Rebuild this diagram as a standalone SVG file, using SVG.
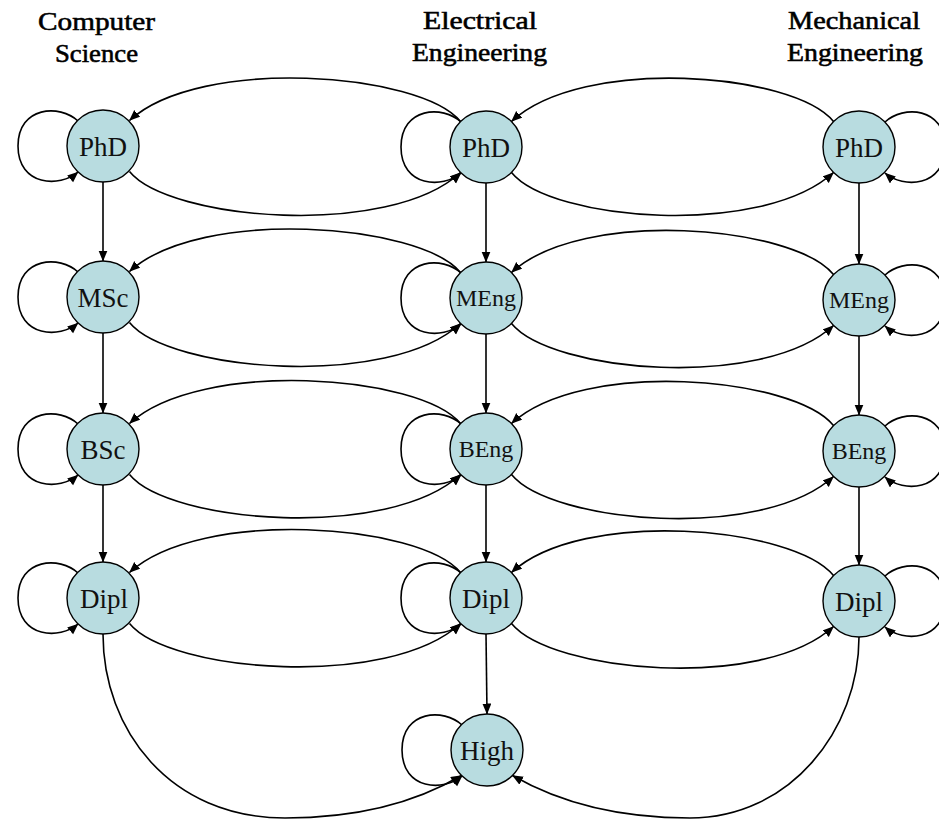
<svg xmlns="http://www.w3.org/2000/svg" width="939" height="819" viewBox="0 0 939 819">
  <style>
    .node circle { fill: #b8dce0; stroke: #000; stroke-width: 1.4; }
    .node text { font-family: "Liberation Serif", "DejaVu Serif", serif; font-size: 27px; fill: #111; text-anchor: middle; }
    .node text.sm { font-size: 24px; }
    .head { font-family: "Liberation Serif", "DejaVu Serif", serif; font-size: 25px; fill: #000; stroke: #000; stroke-width: 0.55; text-anchor: middle; }
    .edges path { fill: none; stroke: #000; stroke-width: 1.6; marker-end: url(#arrow); }
  </style>
  <defs>
    <marker id="arrow" markerUnits="userSpaceOnUse" markerWidth="12" markerHeight="10" refX="10.5" refY="4.5" orient="auto">
      <path d="M0,0 L11,4.5 L0,9 z" fill="#000"/>
    </marker>
  </defs>
  <rect width="939" height="819" fill="#fff"/>

  <!-- column headings -->
  <g id="headings">
    <text class="head" x="96.5" y="30" textLength="117" lengthAdjust="spacingAndGlyphs">Computer</text>
    <text class="head" x="96.5" y="62" textLength="83" lengthAdjust="spacingAndGlyphs">Science</text>
    <text class="head" x="480" y="29" textLength="114" lengthAdjust="spacingAndGlyphs">Electrical</text>
    <text class="head" x="479.5" y="61" textLength="135" lengthAdjust="spacingAndGlyphs">Engineering</text>
    <text class="head" x="854" y="29" textLength="132" lengthAdjust="spacingAndGlyphs">Mechanical</text>
    <text class="head" x="855" y="61" textLength="136" lengthAdjust="spacingAndGlyphs">Engineering</text>
  </g>

  <g class="edges" id="edges">
    <!-- self loops, left and middle columns (loop on the left side) -->
    <path d="M78,121 C60,104 18,106 18,146 C18,186 60,188 78,172"/>
    <path d="M78,272 C60,255 18,257 18,297 C18,337 60,339 78,323"/>
    <path d="M78,424 C60,407 18,409 18,449 C18,489 60,491 78,475"/>
    <path d="M78,573 C60,556 18,558 18,598 C18,638 60,640 78,624"/>
    <path d="M461,122 C443,105 401,107 401,147 C401,187 443,189 461,173"/>
    <path d="M461,273 C443,256 401,258 401,298 C401,338 443,340 461,324"/>
    <path d="M461,424 C443,407 401,409 401,449 C401,489 443,491 461,475"/>
    <path d="M461,573 C443,556 401,558 401,598 C401,638 443,640 461,624"/>
    <path d="M462,725 C444,708 402,710 402,750 C402,790 444,792 462,776"/>
    <!-- self loops, right column (loop on the right side) -->
    <path d="M885,122 C903,105 945,107 945,147 C945,187 903,189 885,173"/>
    <path d="M885,275 C903,258 945,260 945,300 C945,340 903,342 885,326"/>
    <path d="M885,426 C903,409 945,411 945,451 C945,491 903,493 885,477"/>
    <path d="M885,576 C903,559 945,561 945,601 C945,641 903,643 885,627"/>

    <!-- vertical steps down each column -->
    <path d="M103,182 L103,261"/>
    <path d="M103,333 L103,413"/>
    <path d="M103,485 L103,562"/>
    <path d="M486,183 L486,262"/>
    <path d="M486,334 L486,413"/>
    <path d="M486,485 L486,562"/>
    <path d="M486,634 L487,714"/>
    <path d="M859,183 L859,264"/>
    <path d="M859,336 L859,415"/>
    <path d="M859,487 L859,565"/>

    <!-- Electrical -> Computer Science (upper arcs) -->
    <path d="M460.5,121.5 C420.5,72.5 200.5,55.5 129.5,120.5"/>
    <path d="M460.5,272.5 C420.5,223.5 200.5,206.5 129.5,271.5"/>
    <path d="M460.5,423.5 C420.5,374.5 200.5,358.5 129.5,423.5"/>
    <path d="M460.5,572.5 C420.5,523.5 200.5,507.5 129.5,572.5"/>
    <!-- Computer Science -> Electrical (lower arcs) -->
    <path d="M129.5,171.5 C169.5,220.5 389.5,238.5 460.5,172.5"/>
    <path d="M129.5,322.5 C169.5,371.5 389.5,389.5 460.5,323.5"/>
    <path d="M129.5,474.5 C169.5,523.5 389.5,540.5 460.5,474.5"/>
    <path d="M129.5,623.5 C169.5,672.5 389.5,689.5 460.5,623.5"/>

    <!-- Mechanical -> Electrical (upper arcs) -->
    <path d="M833.5,121.5 C793.5,72.5 582.5,55.5 511.5,121.5"/>
    <path d="M833.5,274.5 C793.5,225.5 582.5,207.5 511.5,272.5"/>
    <path d="M833.5,425.5 C793.5,376.5 582.5,358.5 511.5,423.5"/>
    <path d="M833.5,575.5 C793.5,526.5 582.5,507.5 511.5,572.5"/>
    <!-- Electrical -> Mechanical (lower arcs) -->
    <path d="M511.5,172.5 C551.5,221.5 762.5,237.5 833.5,172.5"/>
    <path d="M511.5,323.5 C551.5,372.5 762.5,390.5 833.5,325.5"/>
    <path d="M511.5,474.5 C551.5,523.5 762.5,541.5 833.5,476.5"/>
    <path d="M511.5,623.5 C551.5,672.5 762.5,691.5 833.5,626.5"/>

    <!-- diplomas down to High school -->
    <path d="M103,634 C103,730 170,818 285,818 C365,818 420,800 461.5,775.5"/>
    <path d="M859,637 C859,730 790,818 690,818 C610,818 555,800 512.5,775.5"/>
  </g>

  <!-- Computer Science -->
  <g class="node" id="cs-phd"><circle cx="103" cy="146" r="36"/><text x="103" y="155.5">PhD</text></g>
  <g class="node" id="cs-msc"><circle cx="103" cy="297" r="36"/><text x="103" y="306.5">MSc</text></g>
  <g class="node" id="cs-bsc"><circle cx="103" cy="449" r="36"/><text x="103" y="458.5">BSc</text></g>
  <g class="node" id="cs-dipl"><circle cx="103" cy="598" r="36"/><text x="104" y="607.5">Dipl</text></g>

  <!-- Electrical Engineering -->
  <g class="node" id="ee-phd"><circle cx="486" cy="147" r="36"/><text x="486" y="156.5">PhD</text></g>
  <g class="node" id="ee-meng"><circle cx="486" cy="298" r="36"/><text class="sm" x="486" y="306">MEng</text></g>
  <g class="node" id="ee-beng"><circle cx="486" cy="449" r="36"/><text class="sm" x="486" y="457">BEng</text></g>
  <g class="node" id="ee-dipl"><circle cx="486" cy="598" r="36"/><text x="486" y="607.5">Dipl</text></g>
  <g class="node" id="high"><circle cx="487" cy="750" r="36"/><text x="487" y="759.5">High</text></g>

  <!-- Mechanical Engineering -->
  <g class="node" id="me-phd"><circle cx="859" cy="147" r="36"/><text x="859" y="156.5">PhD</text></g>
  <g class="node" id="me-meng"><circle cx="859" cy="300" r="36"/><text class="sm" x="859" y="308">MEng</text></g>
  <g class="node" id="me-beng"><circle cx="859" cy="451" r="36"/><text class="sm" x="859" y="459">BEng</text></g>
  <g class="node" id="me-dipl"><circle cx="859" cy="601" r="36"/><text x="859" y="610.5">Dipl</text></g>
</svg>
